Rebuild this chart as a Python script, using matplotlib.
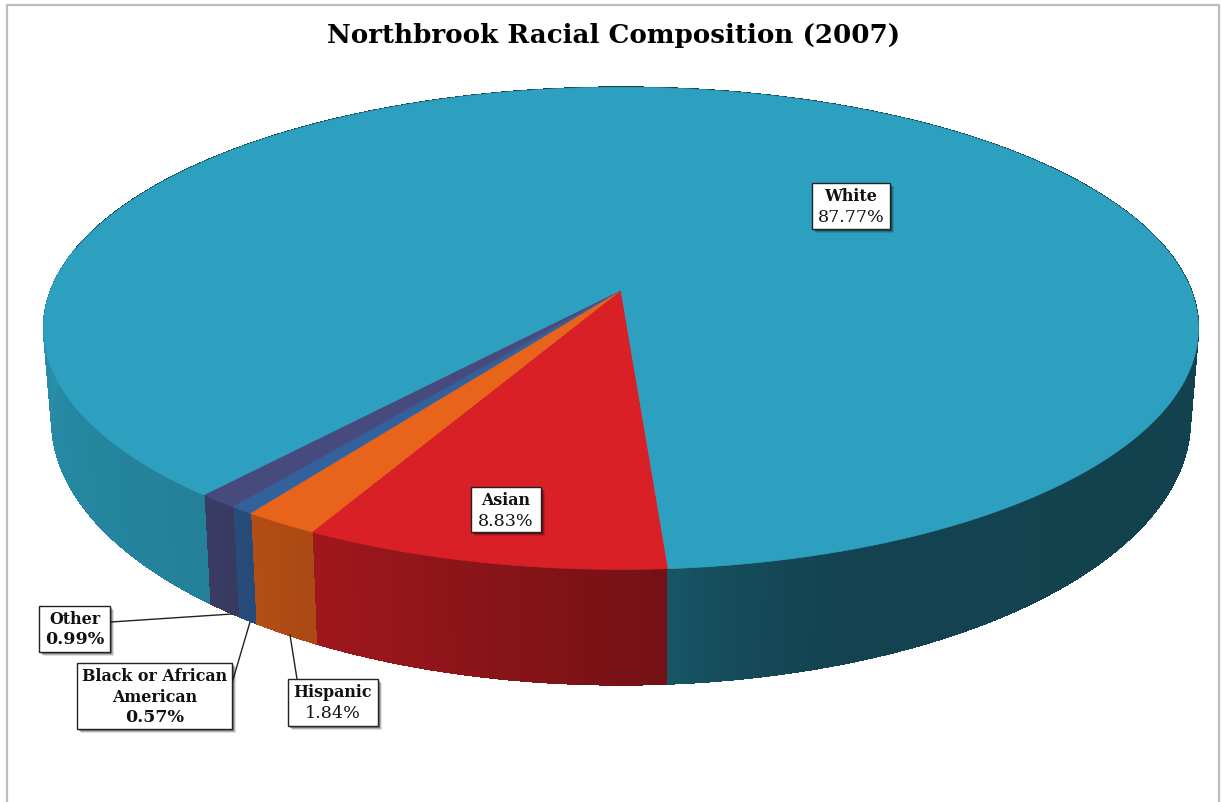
import numpy as np
from matplotlib import pyplot as plt
from matplotlib.collections import PolyCollection
from matplotlib.patches import Rectangle
from matplotlib.colors import to_rgb

# values, clockwise from the white/asian seam
categories = ["Asian", "Hispanic", "Black or African\nAmerican", "Other", "White"]
values = [8.83, 1.84, 0.57, 0.99, 87.77]
title = "Northbrook Racial Composition (2007)"

colors = ["#D92027", "#E8641B", "#33619C", "#474A7C", "#2DA0BF"]
start_angle = -86.0

# label boxes in pixels: left, top, right, bottom
boxes = [(471, 487, 541, 532), (288, 679, 378, 726), (77, 663, 232, 729),
         (39, 606, 110, 652), (812, 183, 890, 229)]
pct_weight = ["normal", "normal", "bold", "bold", "normal"]
leaders = {
    1: ((297, 679), (290, 635)),
    2: ((232, 683), (250, 622)),
    3: ((111, 622), (232, 614)),
}

# perspective of the top and the bottom disc
top_plane = dict(cx=621, cy=290, a=570, b=235, k=0.159)
bottom_plane = dict(cx=621, cy=378, a=562, b=258, k=0.159)

# how dark the side wall gets along the rim
shade_angles = [-190, -180, -130, -117, -86, -80, -72, -20, 10]
shade_factor = [0.90, 0.89, 0.80, 0.73, 0.53, 0.47, 0.42, 0.41, 0.41]


def project(angle, plane):
    rad = np.radians(angle)
    u, v = np.cos(rad), np.sin(rad)
    w = 1 + plane["k"] * v
    return plane["cx"] + plane["a"] * u / w, plane["cy"] - plane["b"] * v / w


fig = plt.figure(figsize=(12.21, 8.02), dpi=100)
ax = fig.add_axes([0, 0, 1, 1])
ax.set_xlim(0, 1221)
ax.set_ylim(802, 0)
ax.axis("off")

# frame, open at the bottom
ax.plot([7, 7, 1219, 1219], [802, 5, 5, 802], color="#BDBDBD", lw=1.6)

sweeps = np.array(values) / sum(values) * 360.0
edges = start_angle - np.concatenate([[0], np.cumsum(sweeps)])

# side wall first, the top disc covers whatever is behind
for i in range(len(values)):
    angles = np.linspace(edges[i], edges[i + 1], max(int(sweeps[i] * 2), 8))
    xt, yt = project(angles, top_plane)
    xb, yb = project(angles, bottom_plane)
    quads = []
    facecolors = []
    base = np.array(to_rgb(colors[i]))
    for j in range(len(angles) - 1):
        quads.append([(xt[j], yt[j]), (xt[j + 1], yt[j + 1]), (xb[j + 1], yb[j + 1]), (xb[j], yb[j])])
        mid = (angles[j] + angles[j + 1]) / 2
        # white slice wraps round, keep it on the shading range
        wrapped = (mid + 190) % 360 - 190
        facecolors.append(base * np.interp(wrapped, shade_angles, shade_factor))
    # no antialiasing here, otherwise every quad joint shows as a thin stripe
    ax.add_collection(PolyCollection(quads, facecolors=facecolors, edgecolors=facecolors, linewidths=0.6,
                                     antialiaseds=False, zorder=2))

for i in range(len(values)):
    angles = np.linspace(edges[i], edges[i + 1], max(int(sweeps[i] * 2), 8))
    xt, yt = project(angles, top_plane)
    xs = np.concatenate([[top_plane["cx"]], xt])
    ys = np.concatenate([[top_plane["cy"]], yt])
    ax.fill(xs, ys, color=colors[i], lw=0.5, zorder=3)

for idx, ((x0, y0), (x1, y1)) in leaders.items():
    ax.plot([x0, x1], [y0, y1], color="#222222", lw=1.0, zorder=4)

for i, (left, top, right, bottom) in enumerate(boxes):
    for off, alpha in [(4, 0.12), (3, 0.2), (2, 0.3)]:
        ax.add_patch(Rectangle((left + off, top + off), right - left, bottom - top,
                               facecolor="black", edgecolor="none", alpha=alpha, zorder=5))
    ax.add_patch(Rectangle((left, top), right - left, bottom - top, facecolor="white",
                           edgecolor="#222222", lw=1.0, zorder=6))
    mid = (left + right) / 2
    y = top + 13.5
    for line in categories[i].split("\n"):
        ax.text(mid, y, line, ha="center", va="center", family="DejaVu Serif",
                fontweight="bold", fontsize=11.4, color="#111111", zorder=7)
        y += 20.5
    ax.text(mid, y, f"{values[i]:.2f}%", ha="center", va="center", family="DejaVu Serif",
            fontweight=pct_weight[i], fontsize=12.6, color="#111111", zorder=7)

ax.text(614, 35, title, ha="center", va="center", family="DejaVu Serif", fontweight="bold",
        fontsize=18.8, color="black", zorder=7)

fig.savefig("out.png", dpi=100)
